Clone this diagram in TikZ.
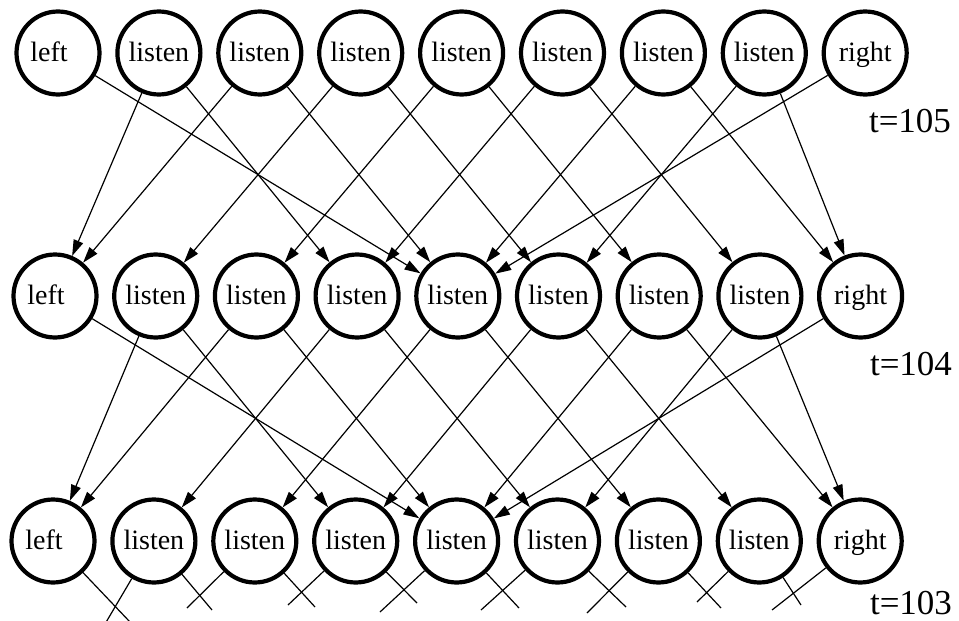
\documentclass[tikz,border=0pt]{standalone}
\usepackage{fontspec}
\setmainfont{Liberation Serif}
\usetikzlibrary{arrows.meta,calc}
\begin{document}
\begin{tikzpicture}[x=1pt,y=-1pt,
  st/.style={circle,draw,line width=4.2pt,minimum size=83pt,inner sep=0pt,text height=20pt,text depth=3pt,font=\fontsize{28}{30}\selectfont},
  edge/.style={line width=1.2pt,-{Triangle[length=16pt,width=10pt]}},
  stub/.style={line width=1.2pt},
  tl/.style={inner sep=0pt,font=\fontsize{35}{38}\selectfont}]
\useasboundingbox (0,0) rectangle (959,621);
\foreach \i/\lab in {0/{\hspace*{-18pt}left},1/listen,2/listen,3/listen,4/listen,5/listen,6/listen,7/listen,8/right} {
  \node[st] (a\i) at ({58+100.9*\i},53) {\lab};
  \node[st] (b\i) at ({55+100.7*\i},296) {\lab};
  \node[st] (c\i) at ({53+100.9*\i},541) {\lab};
}
\foreach \s/\t in {0/4,1/0,1/3,2/0,2/4,3/1,3/5,4/2,4/6,5/3,5/7,6/4,6/8,7/5,7/8,8/4} {
  \draw[edge] (a\s) -- (b\t);
  \draw[edge] (b\s) -- (c\t);
}
\foreach \n/\x/\y in {0/130/622,1/105/624,1/212/610,2/187/608,2/315/607,3/288/605,3/417/603,4/380/612,4/519/608,5/481/610,5/626/607,6/587/613,6/721/608,7/697/602,7/801/605,8/772/610} {
  \coordinate (e\n-\x) at (\x,\y);
  \draw[stub] (c\n) -- (e\n-\x);
}
\node[tl] (t105) at (910,121) {t=105};
\node[tl] (t104) at (911,364) {t=104};
\node[tl] (t103) at (911,603) {t=103};
\end{tikzpicture}
\end{document}
